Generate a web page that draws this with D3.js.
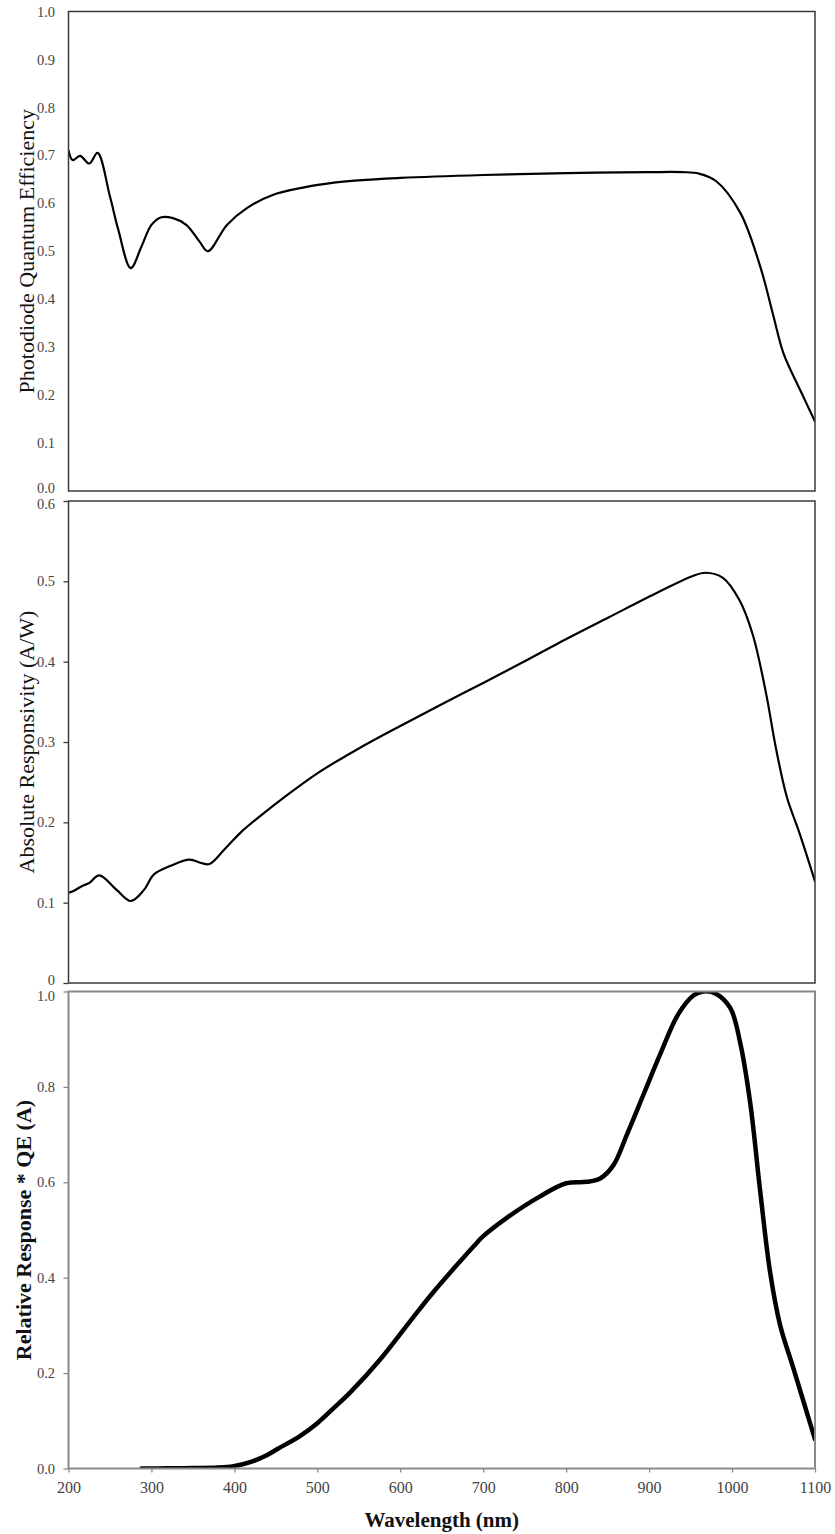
<!DOCTYPE html>
<html>
<head>
<meta charset="utf-8">
<script src="https://cdn.jsdelivr.net/npm/d3@7"></script>
<style>
  html, body { margin: 0; padding: 0; background: #fff; }
  svg { display: block; }
  text { font-family: "Liberation Serif", "Times New Roman", serif; }
</style>
</head>
<body>
<svg id="chart" width="835" height="1534"></svg>
<script>
// Photodiode quantum efficiency vs wavelength (nm)
const qeWavelength = [200, 205, 214, 225, 235, 250, 260, 275, 288, 300, 312, 326, 342, 358, 368, 391, 415, 447, 503, 550, 600, 700, 800, 900, 940, 960, 981, 1010, 1034, 1050, 1062, 1082, 1100];
const qeValues     = [0.710, 0.690, 0.699, 0.683, 0.705, 0.614, 0.545, 0.465, 0.510, 0.555, 0.571, 0.569, 0.555, 0.520, 0.500, 0.555, 0.590, 0.618, 0.639, 0.648, 0.653, 0.659, 0.663, 0.665, 0.665, 0.662, 0.646, 0.580, 0.468, 0.364, 0.287, 0.211, 0.145];

// Absolute responsivity (A/W)
const respWavelength = [200, 206, 217, 225, 237, 258, 275, 291, 303, 323, 346, 360, 370, 389, 409, 434, 458, 500, 550, 600, 650, 700, 750, 790, 851, 912, 952, 968, 989, 1009, 1025, 1041, 1053, 1066, 1082, 1100];
const respValues     = [0.1124, 0.1146, 0.1210, 0.1245, 0.1339, 0.1159, 0.1021, 0.1159, 0.1352, 0.1459, 0.1536, 0.1494, 0.1481, 0.1674, 0.1888, 0.2103, 0.2296, 0.261, 0.292, 0.320, 0.347, 0.3735, 0.4005, 0.4227, 0.455, 0.487, 0.5064, 0.5107, 0.5043, 0.4764, 0.4335, 0.3605, 0.2918, 0.2318, 0.1845, 0.1266];

// Relative response * QE (A)
const relWavelength = [288, 320, 350, 380, 399, 420, 439, 453, 479, 500, 520, 540, 576, 616, 640, 672, 688, 700, 728, 768, 800, 825, 841, 857, 873, 893, 913, 935, 953, 965, 981, 998, 1010, 1022, 1034, 1046, 1058, 1074, 1100];
const relValues     = [0, 0.0004, 0.001, 0.002, 0.005, 0.014, 0.028, 0.042, 0.068, 0.095, 0.127, 0.160, 0.229, 0.318, 0.370, 0.434, 0.465, 0.487, 0.525, 0.570, 0.598, 0.601, 0.608, 0.636, 0.699, 0.783, 0.867, 0.952, 0.991, 1.000, 0.995, 0.965, 0.891, 0.765, 0.580, 0.410, 0.300, 0.210, 0.061];

// Tick labels
const qeTicks = [0, 0.1, 0.2, 0.3, 0.4, 0.5, 0.6, 0.7, 0.8, 0.9, 1.0];
const respTicks = [0, 0.1, 0.2, 0.3, 0.4, 0.5, 0.6];
const relTicks = [0, 0.2, 0.4, 0.6, 0.8, 1.0];
const wavelengthTicks = [200, 300, 400, 500, 600, 700, 800, 900, 1000, 1100];

const svg = d3.select("#chart");
svg.append("rect").attr("width", 835).attr("height", 1534).attr("fill", "#fff");

const left = 68.5, right = 815;
const x = d3.scaleLinear().domain([200, 1100]).range([left, right]);

const panels = [
  {
    id: "qe", top: 11.5, bottom: 491, domain: [0, 1.0],
    ticks: qeTicks, fmt: d3.format(".1f"), tickSize: 0,
    // nudge the bottom label up, away from the panel below
    nudge: v => v === 0 ? -3 : 0,
    xs: qeWavelength, ys: qeValues, width: 2.2,
    frame: "#3a3a3a", frameWidth: 1.5,
    title: "Photodiode Quantum Efficiency", bold: false, titleX: 26
  },
  {
    id: "resp", top: 501, bottom: 983, domain: [0, 0.6],
    ticks: respTicks, fmt: d => d === 0 ? "0" : d3.format(".1f")(d), tickSize: 5,
    nudge: v => v === 0.6 ? 3 : (v === 0 ? -3 : 0),
    xs: respWavelength, ys: respValues, width: 2.2,
    frame: "#3a3a3a", frameWidth: 1.5,
    title: "Absolute Responsivity (A/W)", bold: false, titleX: 26
  },
  {
    id: "rel", top: 991.5, bottom: 1468.5, domain: [0, 1.0],
    ticks: relTicks, fmt: d3.format(".1f"), tickSize: 5,
    nudge: v => v === 1.0 ? 4 : 0,
    xs: relWavelength, ys: relValues, width: 4.5,
    frame: "#8a8a8a", frameWidth: 2,
    title: "Relative Response * QE (A)", bold: true, titleX: 23
  }
];

panels.forEach(p => {
  const y = d3.scaleLinear().domain(p.domain).range([p.bottom, p.top]);
  const g = svg.append("g").attr("class", "panel-" + p.id);

  g.append("clipPath").attr("id", "clip-" + p.id)
    .append("rect")
    .attr("x", left).attr("y", p.top)
    .attr("width", right - left).attr("height", p.bottom - p.top);

  // y axis ticks and labels
  const axis = d3.axisLeft(y)
    .tickValues(p.ticks)
    .tickFormat(p.fmt)
    .tickSize(p.tickSize)
    .tickPadding(13.5 - p.tickSize);
  const ag = g.append("g").attr("transform", `translate(${left},0)`).call(axis);
  ag.select(".domain").remove();
  ag.selectAll(".tick line").attr("stroke", p.frame).attr("stroke-width", 1.3);
  ag.selectAll(".tick text")
    .attr("fill", "#444")
    .attr("y", d => p.nudge(d))
    .style("font-size", "14.5px")
    .style("font-family", "'Liberation Serif', 'Times New Roman', serif");

  // data line
  const line = d3.line()
    .x((d, i) => x(p.xs[i]))
    .y(d => y(d))
    .curve(d3.curveCatmullRom.alpha(0.5));
  g.append("path")
    .datum(p.ys)
    .attr("clip-path", `url(#clip-${p.id})`)
    .attr("fill", "none")
    .attr("stroke", "#000")
    .attr("stroke-width", p.width)
    .attr("stroke-linejoin", "round")
    .attr("stroke-linecap", "round")
    .attr("d", line);

  // plot frame
  g.append("rect")
    .attr("x", left).attr("y", p.top)
    .attr("width", right - left).attr("height", p.bottom - p.top)
    .attr("fill", "none")
    .attr("stroke", p.frame)
    .attr("stroke-width", p.frameWidth);

  // y axis title
  const cy = (p.top + p.bottom) / 2;
  g.append("text")
    .attr("transform", `translate(${p.titleX},${cy}) rotate(-90)`)
    .attr("text-anchor", "middle")
    .attr("dominant-baseline", "central")
    .attr("fill", "#111")
    .style("font-size", "22px")
    .style("font-weight", p.bold ? "bold" : "normal")
    .text(p.title);
});

// shared wavelength axis under the bottom panel
const bottomPanel = panels[2];
const xAxis = d3.axisBottom(x)
  .tickValues(wavelengthTicks)
  .tickFormat(d3.format("d"))
  .tickSize(4)
  .tickPadding(9);
const xg = svg.append("g")
  .attr("transform", `translate(0,${bottomPanel.bottom})`)
  .call(xAxis);
xg.select(".domain").remove();
xg.selectAll(".tick line").attr("stroke", "#8a8a8a").attr("stroke-width", 1.3);
xg.selectAll(".tick text")
  .attr("fill", "#444")
  .style("font-size", "16px")
  .style("font-family", "'Liberation Serif', 'Times New Roman', serif");

svg.append("text")
  .attr("x", (left + right) / 2)
  .attr("y", 1527)
  .attr("text-anchor", "middle")
  .attr("fill", "#111")
  .style("font-size", "21px")
  .style("font-weight", "bold")
  .text("Wavelength (nm)");
</script>
</body>
</html>
